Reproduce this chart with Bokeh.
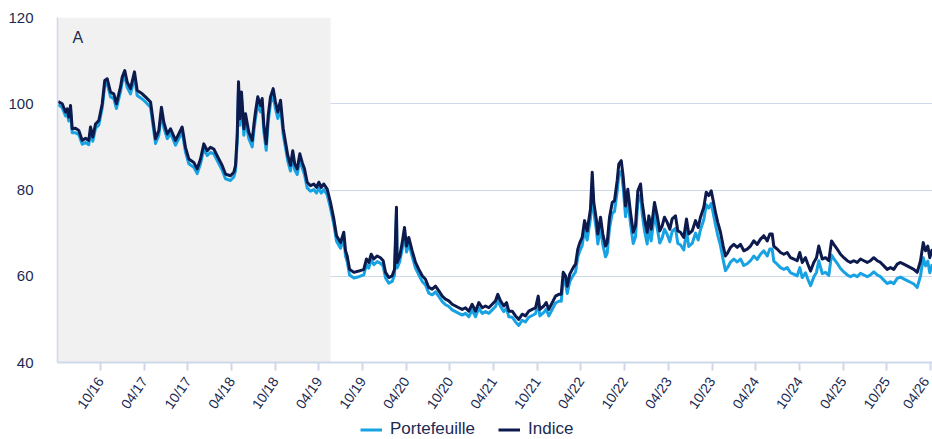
from bokeh.plotting import figure
from bokeh.models import (Range1d, FixedTicker, BoxAnnotation, Legend, LegendItem,
                          Label, ColumnDataSource)
from bokeh.layouts import column
from bokeh.embed import file_html
from bokeh.resources import INLINE

# ---------------- data (dates as decimal years) ----------------
dates = [
    2016.266, 2016.312, 2016.350, 2016.369, 2016.387, 2016.407, 2016.426, 2016.464, 2016.502, 2016.541,
    2016.579, 2016.616, 2016.636, 2016.662, 2016.693, 2016.731, 2016.770, 2016.799, 2016.827, 2016.865,
    2016.902, 2016.933, 2016.979, 2016.999, 2017.028, 2017.056, 2017.094, 2017.139, 2017.170, 2017.228,
    2017.265, 2017.323, 2017.380, 2017.418, 2017.448, 2017.475, 2017.514, 2017.552, 2017.609, 2017.685,
    2017.723, 2017.761, 2017.818, 2017.857, 2017.895, 2017.933, 2017.972, 2018.009, 2018.047, 2018.104,
    2018.143, 2018.181, 2018.238, 2018.276, 2018.296, 2018.315, 2018.330, 2018.345, 2018.364, 2018.391,
    2018.410, 2018.448, 2018.487, 2018.505, 2018.524, 2018.551, 2018.582, 2018.601, 2018.620, 2018.647,
    2018.670, 2018.696, 2018.727, 2018.753, 2018.780, 2018.811, 2018.842, 2018.868, 2018.894, 2018.925,
    2018.951, 2018.974, 2019.002, 2019.032, 2019.059, 2019.085, 2019.116, 2019.154, 2019.192, 2019.223,
    2019.249, 2019.277, 2019.306, 2019.345, 2019.383, 2019.421, 2019.452, 2019.498, 2019.535, 2019.555,
    2019.574, 2019.601, 2019.650, 2019.707, 2019.764, 2019.795, 2019.821, 2019.849, 2019.879, 2019.918,
    2019.955, 2019.986, 2020.013, 2020.050, 2020.089, 2020.116, 2020.138, 2020.146, 2020.176, 2020.204,
    2020.230, 2020.253, 2020.279, 2020.318, 2020.356, 2020.394, 2020.433, 2020.470, 2020.508, 2020.547,
    2020.585, 2020.623, 2020.662, 2020.699, 2020.737, 2020.776, 2020.814, 2020.852, 2020.891, 2020.928,
    2020.966, 2021.005, 2021.043, 2021.081, 2021.120, 2021.157, 2021.195, 2021.234, 2021.272, 2021.298,
    2021.329, 2021.367, 2021.398, 2021.424, 2021.463, 2021.501, 2021.538, 2021.577, 2021.615, 2021.653,
    2021.692, 2021.730, 2021.761, 2021.779, 2021.825, 2021.852, 2021.882, 2021.921, 2021.959, 2021.996,
    2022.024, 2022.047, 2022.073, 2022.093, 2022.122, 2022.161, 2022.188, 2022.214, 2022.237, 2022.264,
    2022.291, 2022.321, 2022.359, 2022.379, 2022.397, 2022.425, 2022.443, 2022.474, 2022.500, 2022.531,
    2022.550, 2022.577, 2022.608, 2022.634, 2022.665, 2022.683, 2022.711, 2022.734, 2022.760, 2022.786,
    2022.817, 2022.848, 2022.874, 2022.901, 2022.932, 2022.951, 2022.977, 2023.008, 2023.027, 2023.054,
    2023.092, 2023.123, 2023.152, 2023.180, 2023.206, 2023.237, 2023.267, 2023.294, 2023.332, 2023.359,
    2023.389, 2023.427, 2023.458, 2023.484, 2023.523, 2023.561, 2023.592, 2023.618, 2023.656, 2023.684,
    2023.713, 2023.741, 2023.764, 2023.790, 2023.816, 2023.847, 2023.878, 2023.904, 2023.931, 2023.962,
    2024.000, 2024.039, 2024.076, 2024.114, 2024.153, 2024.191, 2024.228, 2024.267, 2024.305, 2024.343,
    2024.382, 2024.412, 2024.439, 2024.457, 2024.496, 2024.534, 2024.572, 2024.611, 2024.649, 2024.686,
    2024.725, 2024.755, 2024.783, 2024.820, 2024.847, 2024.878, 2024.915, 2024.946, 2024.972, 2024.992,
    2025.012, 2025.049, 2025.087, 2025.118, 2025.144, 2025.183, 2025.221, 2025.259, 2025.298, 2025.335,
    2025.373, 2025.412, 2025.450, 2025.488, 2025.527, 2025.564, 2025.602, 2025.641, 2025.679, 2025.717,
    2025.755, 2025.793, 2025.831, 2025.870, 2025.908, 2025.945, 2025.984, 2026.022, 2026.060, 2026.099,
    2026.137, 2026.168, 2026.194, 2026.220, 2026.243, 2026.271,
]

indice = [
    100.5, 100.0, 98.1, 98.8, 96.9, 99.6, 94.2, 94.3, 93.8, 91.5,
    92.0, 91.5, 94.6, 92.3, 95.3, 96.1, 100.0, 105.4, 105.8, 102.7,
    102.3, 100.0, 103.9, 106.2, 107.7, 105.0, 103.5, 107.4, 103.1, 102.3,
    101.6, 100.4, 91.9, 93.8, 99.2, 95.7, 93.0, 94.2, 91.5, 94.6,
    89.9, 87.2, 86.4, 84.9, 87.2, 90.7, 89.1, 89.9, 89.5, 87.2,
    85.7, 83.7, 83.3, 84.1, 85.7, 92.6, 105.1, 96.5, 102.7, 94.2,
    97.7, 93.4, 91.5, 95.0, 98.1, 101.6, 99.6, 101.2, 95.0, 90.7,
    97.3, 101.6, 103.5, 100.4, 98.1, 100.8, 94.2, 91.1, 88.0, 85.7,
    89.1, 86.0, 84.9, 88.4, 86.4, 84.9, 81.8, 81.0, 81.4, 80.6,
    81.8, 80.6, 81.4, 80.2, 77.1, 73.3, 69.4, 67.8, 70.2, 65.9,
    64.7, 61.6, 60.9, 61.2, 61.6, 64.0, 63.2, 65.1, 64.0, 64.7,
    64.3, 63.6, 60.9, 59.7, 60.1, 61.6, 76.0, 63.2, 64.7, 67.8,
    71.3, 67.0, 69.0, 65.9, 63.2, 61.6, 60.1, 59.3, 57.4, 57.0,
    57.7, 56.6, 55.4, 54.7, 54.3, 53.5, 53.1, 52.7, 52.3, 52.7,
    51.9, 53.5, 51.9, 53.9, 52.7, 53.1, 52.7, 53.5, 54.3, 55.8,
    54.3, 53.1, 53.9, 51.9, 51.9, 50.8, 50.0, 51.2, 50.8, 51.9,
    52.3, 52.7, 55.4, 52.3, 53.1, 53.9, 52.3, 53.9, 55.4, 55.8,
    55.8, 60.9, 60.1, 57.7, 60.5, 62.0, 62.8, 66.3, 67.8, 69.0,
    72.9, 70.5, 75.6, 84.1, 77.1, 73.3, 69.8, 73.7, 69.8, 67.0,
    67.8, 73.7, 77.1, 77.5, 82.2, 86.0, 86.8, 83.0, 76.3, 80.2,
    74.8, 70.2, 71.7, 79.8, 81.4, 77.1, 73.3, 70.2, 74.0, 70.9,
    77.1, 74.0, 70.5, 71.7, 73.7, 72.5, 70.9, 73.3, 74.0, 70.5,
    70.2, 69.0, 73.3, 69.8, 70.5, 72.9, 71.3, 73.7, 76.0, 79.5,
    78.7, 79.8, 77.5, 74.8, 72.5, 70.2, 67.0, 64.7, 65.5, 66.7,
    67.4, 66.7, 67.4, 65.9, 66.3, 67.0, 68.2, 67.4, 68.6, 69.4,
    68.2, 69.8, 69.8, 67.0, 66.3, 65.5, 65.1, 65.5, 64.3, 64.0,
    63.6, 65.5, 63.2, 64.3, 62.8, 61.2, 63.2, 64.3, 67.0, 65.5,
    64.0, 64.3, 63.6, 68.2, 67.4, 66.3, 65.1, 64.3, 63.6, 63.2,
    63.6, 63.2, 64.0, 63.6, 63.2, 63.6, 64.3, 63.6, 63.2, 62.4,
    61.6, 62.0, 61.6, 62.8, 63.2, 62.8, 62.4, 62.0, 61.6, 60.9,
    63.6, 67.8, 65.9, 67.0, 64.3, 66.3,
]

portefeuille = [
    99.8, 99.1, 97.2, 97.9, 96.0, 98.6, 93.3, 93.3, 92.8, 90.6,
    91.0, 90.5, 93.6, 91.3, 94.3, 95.1, 99.0, 104.3, 104.7, 101.6,
    101.2, 98.9, 102.8, 105.1, 106.5, 103.8, 102.3, 106.2, 101.9, 101.1,
    100.4, 99.2, 90.8, 92.7, 98.0, 94.5, 91.9, 93.1, 90.4, 93.5,
    88.8, 86.1, 85.3, 83.8, 86.1, 89.5, 88.0, 88.7, 88.4, 86.1,
    84.6, 82.6, 82.2, 83.0, 84.5, 91.2, 103.4, 95.0, 101.1, 92.7,
    96.2, 91.9, 90.0, 93.5, 96.6, 100.0, 98.1, 99.6, 93.5, 89.2,
    95.8, 100.1, 101.9, 98.9, 96.6, 99.3, 92.8, 89.8, 86.7, 84.4,
    87.8, 84.7, 83.6, 87.1, 85.1, 83.6, 80.5, 79.7, 80.1, 79.3,
    80.5, 79.3, 80.1, 78.9, 75.8, 72.0, 68.1, 66.5, 68.9, 64.6,
    63.4, 60.3, 59.6, 59.9, 60.3, 62.7, 61.9, 63.8, 62.7, 63.4,
    63.0, 62.3, 59.6, 58.4, 58.8, 60.3, 74.4, 61.9, 63.4, 66.4,
    69.8, 65.6, 67.6, 64.6, 61.9, 60.3, 58.8, 58.0, 56.1, 55.7,
    56.4, 55.3, 54.1, 53.4, 53.0, 52.2, 51.8, 51.4, 51.0, 51.4,
    50.6, 52.2, 50.6, 52.6, 51.4, 51.8, 51.4, 52.2, 53.0, 54.4,
    53.0, 51.8, 52.6, 50.6, 50.5, 49.4, 48.6, 49.8, 49.4, 50.5,
    50.9, 51.3, 53.9, 50.8, 51.6, 52.4, 50.8, 52.3, 53.8, 54.2,
    54.2, 59.2, 58.4, 56.0, 58.8, 60.2, 61.0, 64.5, 65.9, 67.1,
    70.9, 68.4, 73.4, 81.8, 74.8, 71.0, 67.5, 71.3, 67.4, 64.5,
    65.3, 71.2, 74.6, 75.0, 79.7, 83.5, 84.3, 80.5, 73.8, 77.6,
    72.2, 67.6, 69.1, 77.2, 78.8, 74.5, 70.6, 67.5, 71.3, 68.2,
    74.4, 71.2, 67.7, 68.9, 70.9, 69.7, 68.0, 70.4, 71.1, 67.6,
    67.3, 66.1, 70.4, 66.9, 67.6, 70.0, 68.4, 70.8, 73.1, 76.6,
    75.8, 76.9, 74.6, 71.9, 69.5, 67.1, 63.8, 61.3, 62.1, 63.3,
    64.0, 63.3, 64.0, 62.5, 62.9, 63.6, 64.7, 63.9, 65.1, 65.9,
    64.7, 66.3, 66.3, 63.5, 62.8, 62.0, 61.6, 62.0, 60.8, 60.5,
    60.1, 62.0, 59.7, 60.8, 59.3, 57.8, 59.8, 60.9, 63.6, 62.1,
    60.6, 60.9, 60.2, 64.9, 64.1, 63.0, 61.8, 61.0, 60.3, 59.9,
    60.3, 59.9, 60.7, 60.3, 59.9, 60.3, 61.0, 60.3, 59.9, 59.1,
    58.3, 58.7, 58.3, 59.5, 59.8, 59.4, 59.0, 58.6, 58.2, 57.4,
    60.1, 64.3, 62.4, 63.5, 60.8, 62.8,
]

tick_dates = [2016.75, 2017.25, 2017.75, 2018.25, 2018.75, 2019.25, 2019.75, 2020.25,
              2020.75, 2021.25, 2021.75, 2022.25, 2022.75, 2023.25, 2023.75, 2024.25,
              2024.75, 2025.25, 2025.75, 2026.25]
tick_labels = ["10/16", "04/17", "10/17", "04/18", "10/18", "04/19", "10/19", "04/20",
               "10/20", "04/21", "10/21", "04/22", "10/22", "04/23", "10/23", "04/24",
               "10/24", "04/25", "10/25", "04/26"]
y_ticks = [40, 60, 80, 100, 120]
period_start = 2016.258   # left edge of the time window
period_end = 2026.274     # right edge of the time window
shade_end = 2019.383      # end of the shaded period "A"
series_names = ["Portefeuille", "Indice"]

# ---------------- styling ----------------
NAVY_TXT = "#1b2a52"
GRID = "#cdd8ea"
C_PORT = "#17a2e3"
C_IND = "#0c1a4e"
FONT = "Liberation Sans"

p = figure(width=932, height=419, output_backend="svg", toolbar_location=None,
           x_range=Range1d(period_start, period_end), y_range=Range1d(40, 120),
           min_border_left=57, min_border_right=0, min_border_top=17, min_border_bottom=56)
p.outline_line_color = None
p.background_fill_color = "white"
p.border_fill_color = "white"

p.add_layout(BoxAnnotation(left=period_start, right=shade_end, fill_color="#f1f1f1",
                           fill_alpha=1.0, line_color=None, level="underlay"))

src = ColumnDataSource(dict(d=dates, ind=indice, port=portefeuille))
p.line("d", "port", source=src, line_color=C_PORT, line_width=3, line_join="round")
p.line("d", "ind", source=src, line_color=C_IND, line_width=3, line_join="round")

# grid
p.xgrid.grid_line_color = None
p.ygrid.ticker = FixedTicker(ticks=y_ticks)
p.ygrid.grid_line_color = GRID
p.ygrid.grid_line_width = 1.2

# y axis
ya = p.yaxis[0]
ya.ticker = FixedTicker(ticks=y_ticks)
ya.axis_line_color = GRID
ya.axis_line_width = 1.5
ya.major_tick_line_color = None
ya.minor_tick_line_color = None
ya.major_tick_out = 0
ya.major_tick_in = 0
ya.major_label_standoff = 24
ya.major_label_text_font = FONT
ya.major_label_text_font_size = "15px"
ya.major_label_text_color = NAVY_TXT

# x axis
xa = p.xaxis[0]
xa.ticker = FixedTicker(ticks=tick_dates)
xa.major_label_overrides = {t: l for t, l in zip(tick_dates, tick_labels)}
xa.axis_line_color = GRID
xa.axis_line_width = 2
xa.major_tick_line_color = GRID
xa.major_tick_line_width = 2
xa.major_tick_out = 8
xa.major_tick_in = 0
xa.minor_tick_line_color = None
xa.major_label_orientation = 0.96
xa.major_label_standoff = 8
xa.major_label_text_font = FONT
xa.major_label_text_font_size = "14px"
xa.major_label_text_color = NAVY_TXT

# "A" label
p.add_layout(Label(x=2016.43, y=117.3, text="A", text_font=FONT, text_font_size="16px",
                   text_color=NAVY_TXT, text_baseline="top", text_align="left"))

# legend strip below the chart (its frame is aligned with the chart's frame)
lg = figure(width=932, height=20, output_backend="svg", toolbar_location=None,
            x_range=Range1d(0, 1), y_range=Range1d(0, 1), x_axis_type=None, y_axis_type=None,
            min_border=0)
lg.outline_line_color = None
lg.grid.visible = False
# same series, outside this strip's ranges: only their legend samples show
g_port = lg.line("d", "port", source=src, line_color=C_PORT, line_width=3)
g_ind = lg.line("d", "ind", source=src, line_color=C_IND, line_width=3)
legend = Legend(items=[LegendItem(label=series_names[0], renderers=[g_port]),
                       LegendItem(label=series_names[1], renderers=[g_ind])],
                orientation="horizontal", location=(303, 0),
                padding=0, margin=0, spacing=23, glyph_width=22, glyph_height=17,
                label_height=17, label_standoff=8, label_text_font=FONT,
                label_text_font_size="17px", label_text_color=NAVY_TXT,
                label_text_baseline="middle",
                border_line_color=None, background_fill_alpha=0)
lg.add_layout(legend, "center")

open("out.html", "w").write(file_html(column(p, lg), INLINE))
